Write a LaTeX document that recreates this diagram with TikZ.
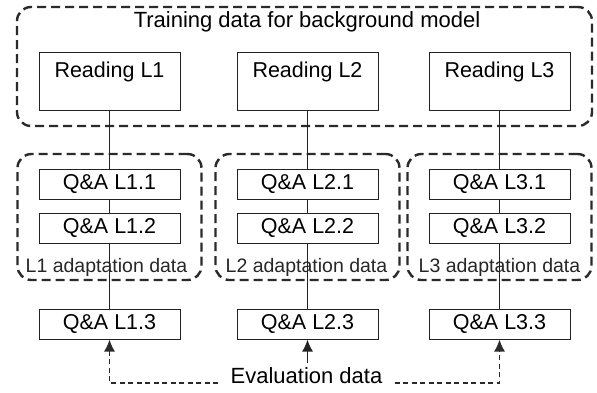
\documentclass[tikz,border=0pt]{standalone}
\usepackage{fontspec}
\setmainfont{Liberation Sans}
\usepackage{xcolor}
\usepackage{tikz}
\usetikzlibrary{positioning, calc, arrows.meta}
\definecolor{LineGray}{HTML}{2A2A2A}
\definecolor{BoxEdge}{HTML}{222222}

\tikzset{
  readbox/.style={draw=BoxEdge, line width=1pt, fill=white, minimum width=141pt,
    text height=25pt, text depth=33pt, inner ysep=0pt, font=\fontsize{21.5}{25}\selectfont},
  qabox/.style={draw=BoxEdge, line width=1pt, fill=white, minimum width=141pt,
    minimum height=30pt, inner sep=0pt, font=\fontsize{21.5}{25}\selectfont},
  groupbox/.style={draw=LineGray, line width=2.4pt, dash pattern=on 9pt off 5pt,
    rounded corners=14pt, inner sep=0pt},
  adaptlabel/.style={anchor=base, inner sep=0pt, text=black!85, font=\fontsize{19.5}{23}\selectfont},
  evalline/.style={draw=LineGray, line width=1.5pt, dash pattern=on 5pt off 3.5pt,
    -{Latex[length=12pt, width=11pt]}},
  link/.style={draw=BoxEdge, line width=1pt}
}

\begin{document}
\begin{tikzpicture}[x=1pt, y=-1pt]
  \useasboundingbox (0,0) rectangle (597,392);
  % groups
  \node[groupbox, minimum width=575pt, minimum height=119pt] (train) at (304.5,66.5) {};
  \node[anchor=base, inner sep=0pt, font=\fontsize{22}{26}\selectfont] (title) at (307,27)
    {Training data for background model};
  \node[groupbox, minimum width=184pt, minimum height=126pt] (a1) at (109.5,217) {};
  \node[groupbox, minimum width=184pt, minimum height=126pt] (a2) at (307.5,217) {};
  \node[groupbox, minimum width=184pt, minimum height=126pt] (a3) at (499.5,217) {};

  % reading material
  \node[readbox] (r1) at (109.5,81) {Reading L1};
  \node[readbox] (r2) at (307.5,81) {Reading L2};
  \node[readbox] (r3) at (499.5,81) {Reading L3};

  % Q&A sets
  \node[qabox] (q11) at (109.5,184) {Q\&A L1.1};
  \node[qabox] (q12) at (109.5,228.5) {Q\&A L1.2};
  \node[qabox] (q13) at (109.5,324) {Q\&A L1.3};
  \node[qabox] (q21) at (307.5,184) {Q\&A L2.1};
  \node[qabox] (q22) at (307.5,228.5) {Q\&A L2.2};
  \node[qabox] (q23) at (307.5,324) {Q\&A L2.3};
  \node[qabox] (q31) at (499.5,184) {Q\&A L3.1};
  \node[qabox] (q32) at (499.5,228.5) {Q\&A L3.2};
  \node[qabox] (q33) at (499.5,324) {Q\&A L3.3};

  \foreach \i in {1,2,3} {
    \draw[link] (r\i) -- (q\i1);
    \draw[link] (q\i1) -- (q\i2);
    \draw[link] (q\i2) -- (q\i3);
  }

  \node[adaptlabel] (l1) at (106.5,272) {L1 adaptation data};
  \node[adaptlabel] (l2) at (306.5,272) {L2 adaptation data};
  \node[adaptlabel] (l3) at (499.5,272) {L3 adaptation data};

  % evaluation
  \node[anchor=base, inner xsep=12pt, inner ysep=4pt, font=\fontsize{22}{26}\selectfont] (eval)
    at (306.5,383) {Evaluation data};
  \draw[evalline] (eval.base west) -| (q13.south);
  \draw[evalline] (eval.base east) -| (q33.south);
  \draw[link, line width=1.5pt, -{Latex[length=12pt, width=11pt]}] (eval.north -| q23.south) -- (q23.south);
\end{tikzpicture}
\end{document}
